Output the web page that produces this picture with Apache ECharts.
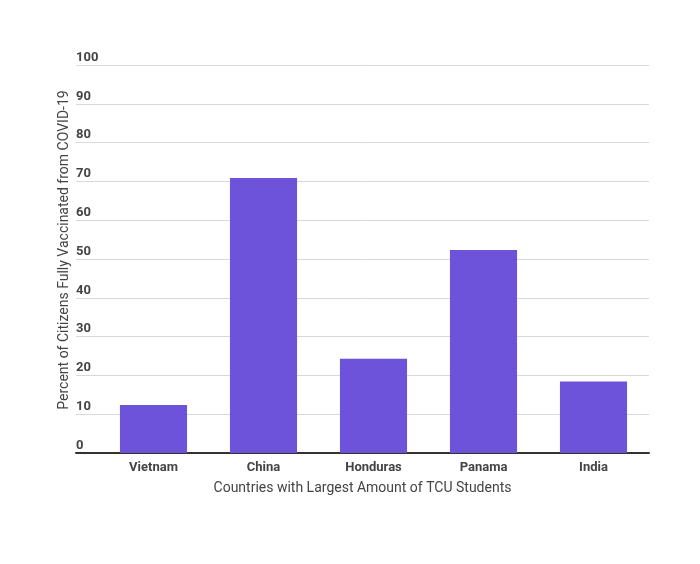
<!DOCTYPE html>
<html>
<head>
<meta charset="utf-8">
<script src="https://cdn.jsdelivr.net/npm/echarts@6/dist/echarts.min.js"></script>
<style>html,body{margin:0;padding:0;background:#fff}#c{width:700px;height:564px}</style>
</head>
<body>
<div id="c"></div>
<script>
const categories = ['Vietnam', 'China', 'Honduras', 'Panama', 'India'];
const values = [12.4, 70.9, 24.3, 52.3, 18.4];
const yTicks = [0, 10, 20, 30, 40, 50, 60, 70, 80, 90, 100];
const xTitle = 'Countries with Largest Amount of TCU Students';
const yTitle = 'Percent of Citizens Fully Vaccinated from COVID-19';

const chart = echarts.init(document.getElementById('c'), null, {renderer: 'canvas'});
const font = 'Roboto, sans-serif';
chart.setOption({
  animation: false,
  grid: [
    {left: 76, right: 51, top: 65, bottom: 111},
    {left: 98.5, right: 51.5, top: 65, bottom: 111}
  ],
  xAxis: [
    {
      gridIndex: 0, type: 'value', min: 0, max: 1,
      axisLine: {show: true, onZero: false, lineStyle: {color: '#333', width: 2}},
      axisTick: {show: false}, axisLabel: {show: false}, splitLine: {show: false},
      name: xTitle, nameLocation: 'middle', nameGap: 28,
      nameTextStyle: {fontFamily: font, fontSize: 14, color: '#444'}
    },
    {
      gridIndex: 1, type: 'category', data: categories,
      axisLine: {show: false}, axisTick: {show: false},
      axisLabel: {margin: 8, fontFamily: font, fontSize: 13, fontWeight: 'bold', color: '#444'}
    }
  ],
  yAxis: [
    {
      gridIndex: 0, type: 'value', min: yTicks[0], max: yTicks[yTicks.length - 1], interval: 10,
      axisLine: {show: false}, axisTick: {show: false},
      axisLabel: {inside: true, margin: 0, verticalAlign: 'bottom', padding: [0, 0, 1, 0],
        fontFamily: font, fontSize: 13, fontWeight: 'bold', color: '#444'},
      splitLine: {lineStyle: {color: '#d9d9d9', width: 1}},
      name: yTitle, nameLocation: 'middle', nameGap: 5, nameMoveOverlap: false,
      nameTextStyle: {fontFamily: font, fontSize: 14, color: '#444', padding: [0, 0, 0, 18]}
    },
    {
      gridIndex: 1, type: 'value', min: 0, max: 100, show: false
    }
  ],
  series: [{
    type: 'bar', xAxisIndex: 1, yAxisIndex: 1, data: values,
    barCategoryGap: '39%',
    itemStyle: {color: '#6c53da'}
  }]
});
</script>
</body>
</html>
